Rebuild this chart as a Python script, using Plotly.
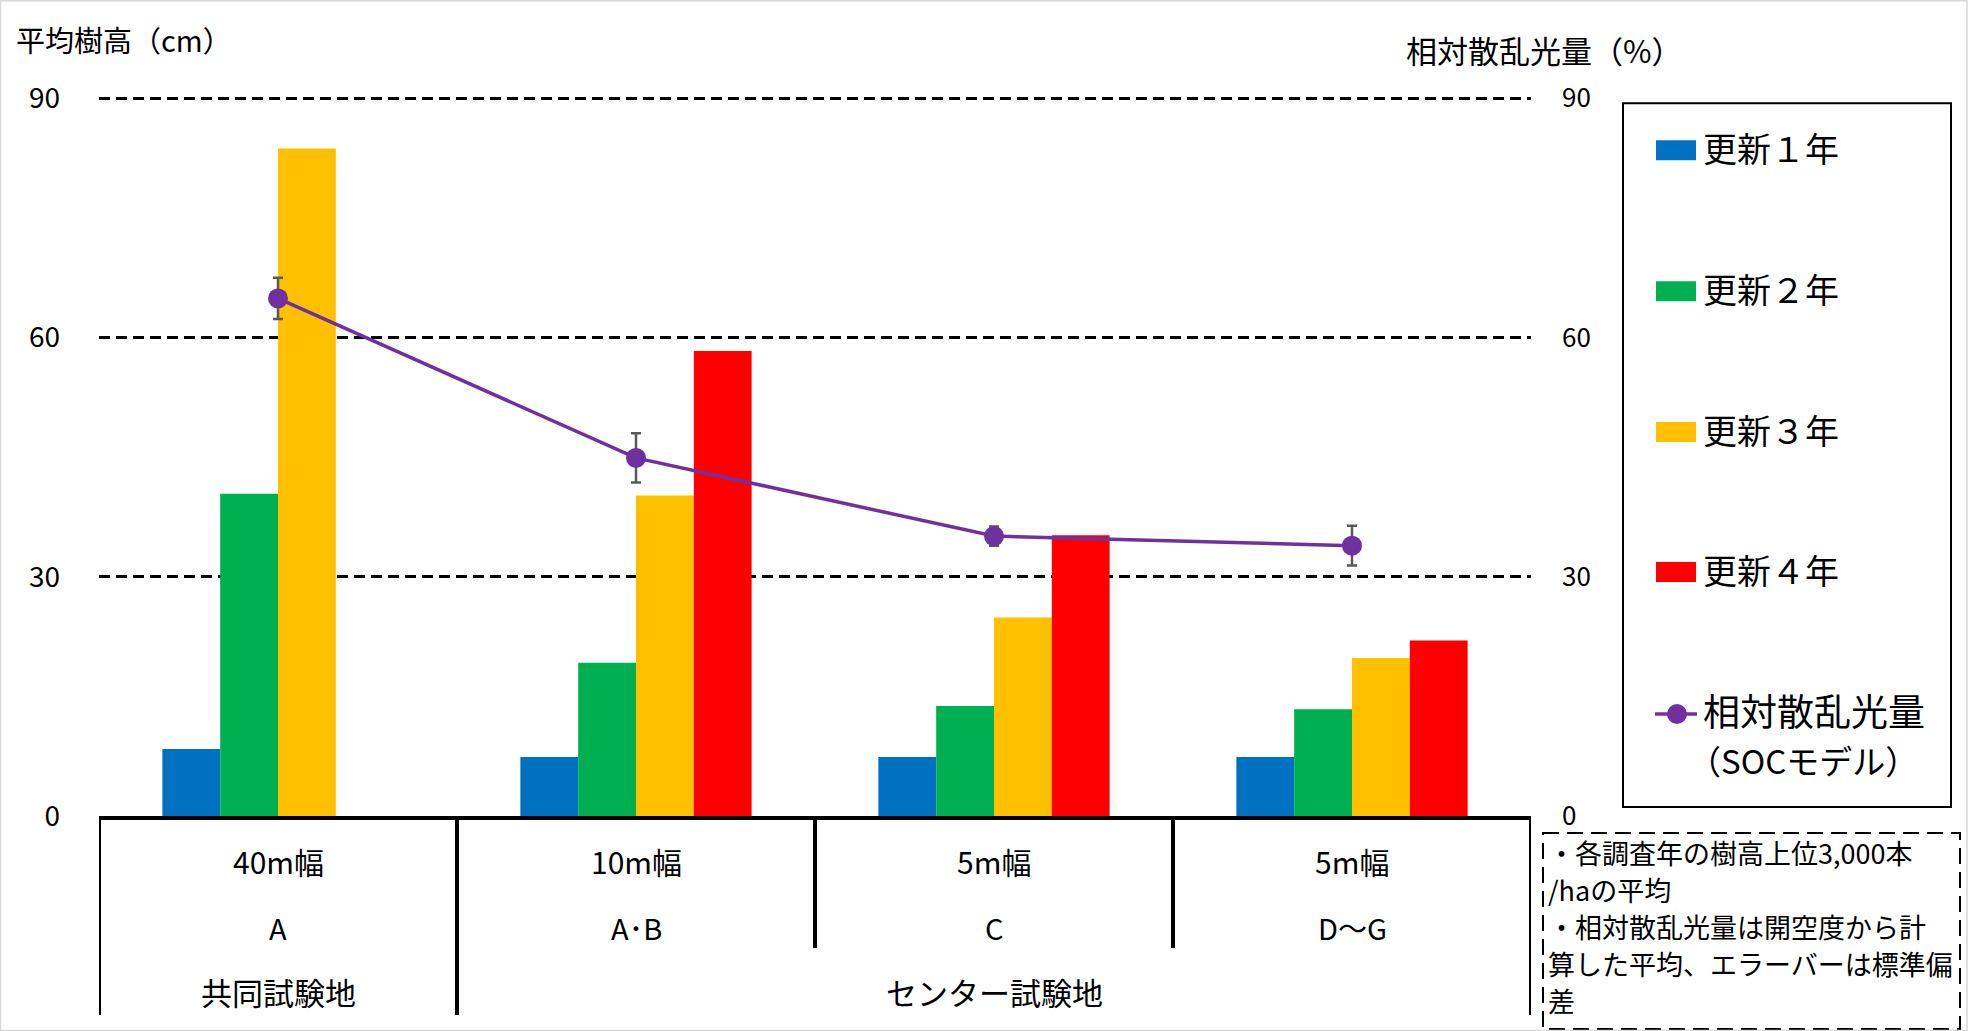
import plotly.graph_objects as go

# ---------------- data ----------------
row1_labels = ["40m幅", "10m幅", "5m幅", "5m幅"]
row2_labels = ["A", "A･B", "C", "D～G"]
site_labels = ["共同試験地", "センター試験地"]
site_spans = [(0, 0), (1, 3)]

series_names = ["更新１年", "更新２年", "更新３年", "更新４年"]
series_colors = ["#0070C0", "#00B050", "#FFC000", "#FF0000"]
year1 = [8.4, 7.4, 7.4, 7.4]
year2 = [40.4, 19.2, 13.8, 13.4]
year3 = [83.7, 40.2, 24.9, 19.8]
year4 = [None, 58.3, 35.2, 22.0]

light_name = "相対散乱光量<br>（SOCモデル）"
light = [64.9, 44.9, 35.1, 33.9]
light_sd = [2.6, 3.1, 1.2, 2.5]

y_ticks = [0, 30, 60, 90]

notes = [
    "・各調査年の樹高上位3,000本",
    "/haの平均",
    "・相対散乱光量は開空度から計",
    "算した平均、エラーバーは標準偏",
    "差",
]

# ---------------- layout geometry ----------------
W, H = 1969, 1031
YMAX = 90.15
L, R, B = 99, 1531, 816
T = B - (B - 98) * YMAX / 90.0
FONT = "Noto Sans CJK JP"


def px(p):
    return (p - L) / (R - L)


def py(p):
    return (B - p) / (B - T)


xs = list(range(len(row1_labels)))

fig = go.Figure()
for name, color, vals in zip(series_names, series_colors, [year1, year2, year3, year4]):
    fig.add_trace(go.Bar(x=xs, y=vals, name=name, marker=dict(color=color, line=dict(width=0)),
                         showlegend=False))

fig.add_trace(go.Scatter(
    x=xs, y=light, name=light_name, yaxis="y2", mode="lines+markers",
    line=dict(color="#7030A0", width=3.5),
    marker=dict(color="#7030A0", size=20),
    error_y=dict(type="data", array=light_sd, visible=True, color="#595959", thickness=2.5, width=5),
    showlegend=False,
))

shapes = []
annotations = []

# category table lines
for xv, bottom in [(-0.5, 1015), (0.5, 1015), (1.5, 948), (2.5, 948), (3.5, 1015)]:
    shapes.append(dict(type="line", xref="x", yref="paper", x0=xv, x1=xv, y0=py(816), y1=py(bottom),
                       line=dict(color="black", width=4)))

for i, (a, b) in enumerate(zip(row1_labels, row2_labels)):
    annotations.append(dict(x=i, y=py(861), xref="x", yref="paper", text=a, showarrow=False,
                            font=dict(size=30, color="black", family=FONT), xanchor="center", yanchor="middle"))
    annotations.append(dict(x=i, y=py(927), xref="x", yref="paper", text=b, showarrow=False,
                            font=dict(size=29, color="black", family=FONT), xanchor="center", yanchor="middle"))
for lab, (a, b) in zip(site_labels, site_spans):
    annotations.append(dict(x=(a + b) / 2, y=py(992), xref="x", yref="paper", text=lab, showarrow=False,
                            font=dict(size=31, color="black", family=FONT), xanchor="center", yanchor="middle"))

# axis titles
annotations.append(dict(x=px(14), y=py(39), xref="paper", yref="paper", text="平均樹高（cm）", showarrow=False,
                        font=dict(size=29, color="black", family=FONT), xanchor="left", yanchor="middle"))
annotations.append(dict(x=px(1404), y=py(49), xref="paper", yref="paper", text="相対散乱光量（%）", showarrow=False,
                        font=dict(size=31, color="black", family=FONT), xanchor="left", yanchor="middle"))

# legend (drawn manually)
shapes.append(dict(type="rect", xref="paper", yref="paper", x0=px(1623), x1=px(1951), y0=py(103), y1=py(807),
                   line=dict(color="black", width=2), fillcolor="rgba(0,0,0,0)"))
leg_y = [150, 291, 432, 572]
for name, color, yy in zip(series_names, series_colors, leg_y):
    shapes.append(dict(type="rect", xref="paper", yref="paper", x0=px(1656), x1=px(1696), y0=py(yy - 10),
                       y1=py(yy + 10), line=dict(width=0), fillcolor=color))
    annotations.append(dict(x=px(1701), y=py(yy - 3), xref="paper", yref="paper", text=name, showarrow=False,
                            font=dict(size=34, color="black", family=FONT), xanchor="left", yanchor="middle"))
ly = 714
shapes.append(dict(type="line", xref="paper", yref="paper", x0=px(1655), x1=px(1697), y0=py(ly), y1=py(ly),
                   line=dict(color="#7030A0", width=3.5)))
shapes.append(dict(type="circle", xref="paper", yref="paper", x0=px(1667), x1=px(1687), y0=py(ly - 10),
                   y1=py(ly + 10), line=dict(width=0), fillcolor="#7030A0"))
light_lines = light_name.split("<br>")
annotations.append(dict(x=px(1701), y=py(710), xref="paper", yref="paper", text=light_lines[0], showarrow=False,
                        font=dict(size=37, color="black", family=FONT), xanchor="left", yanchor="middle"))
annotations.append(dict(x=px(1686), y=py(760), xref="paper", yref="paper", text=light_lines[1], showarrow=False,
                        font=dict(size=33, color="black", family=FONT), xanchor="left", yanchor="middle"))

# notes box
shapes.append(dict(type="rect", xref="paper", yref="paper", x0=px(1543), x1=px(1960), y0=py(833), y1=py(1029),
                   line=dict(color="black", width=2, dash="16px,8px"), fillcolor="rgba(0,0,0,0)"))
for txt, yy in zip(notes, [853, 890, 927, 964, 1001]):
    annotations.append(dict(x=px(1546), y=py(yy), xref="paper", yref="paper", text=txt, showarrow=False,
                            font=dict(size=27, color="black", family=FONT), xanchor="left", yanchor="middle"))

# outer border
shapes.append(dict(type="rect", xref="paper", yref="paper", x0=px(0.5), x1=px(1967), y0=py(1030.5), y1=py(0.5),
                   line=dict(color="#D9D9D9", width=1.5), fillcolor="rgba(0,0,0,0)"))

fig.update_layout(
    width=W, height=H,
    margin=dict(l=L, r=W - R, t=T, b=H - B, pad=0),
    paper_bgcolor="white", plot_bgcolor="white",
    barmode="group", bargap=0.354, bargroupgap=0,
    font=dict(family=FONT, color="black"),
    showlegend=False,
    xaxis=dict(range=[-0.5, 3.5], showticklabels=False, ticks="", showgrid=False, zeroline=False,
               showline=True, linecolor="black", linewidth=4, fixedrange=True),
    yaxis=dict(range=[0, YMAX], tickvals=y_ticks, ticks="", showgrid=True, gridcolor="black", gridwidth=3,
               griddash="11px,6px", zeroline=False, showline=False, ticklabelstandoff=38,
               tickfont=dict(size=28, color="black", family=FONT)),
    yaxis2=dict(range=[0, YMAX], tickvals=y_ticks, overlaying="y", side="right", ticks="", showgrid=False,
                zeroline=False, showline=False, ticklabelstandoff=30,
                tickfont=dict(size=26, color="black", family=FONT)),
    shapes=shapes,
    annotations=annotations,
)

fig.write_html("out.html")
